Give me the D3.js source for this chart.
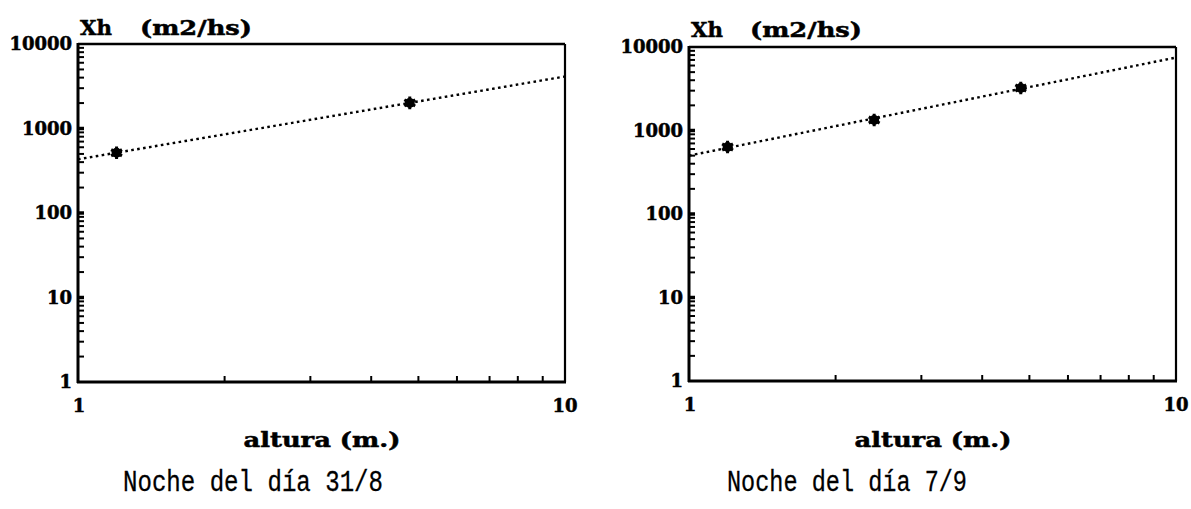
<!DOCTYPE html>
<html>
<head>
<meta charset="utf-8">
<script src="https://cdn.jsdelivr.net/npm/d3@7"></script>
<style>
  html, body { margin: 0; padding: 0; background: #fff; }
  svg { display: block; }
  .serif { font-family: "DejaVu Serif", "Liberation Serif", serif; font-weight: bold; fill: #000; stroke: #000; stroke-width: 0.5px; }
  .mono { font-family: "Liberation Mono", "DejaVu Sans Mono", monospace; fill: #000; stroke: #000; stroke-width: 0.3px; }
</style>
</head>
<body>
<svg id="chart" width="1191" height="509"></svg>
<script>
// Night of 31/8: height (m) and horizontal diffusivity Xh (m2/hs)
const alturas318 = [1.2, 4.8];
const xh318 = [517, 2010];

// Night of 7/9
const alturas79 = [1.2, 2.4, 4.8];
const xh79 = [634, 1336, 3230];

const xTickValues = [1, 10];
const yTickValues = [1, 10, 100, 1000, 10000];
const xDomain = [1, 10];
const yDomain = [1, 10000];

const panels = [
  { alturas: alturas318, xh: xh318, caption: "Noche del día 31/8",
    box: { left: 78, right: 565, top: 44, bottom: 382 },
    title: { xh: 80, unit: 140, y: 35 }, captionX: 123, captionW: 260 },
  { alturas: alturas79, xh: xh79, caption: "Noche del día 7/9",
    box: { left: 689, right: 1176, top: 47, bottom: 381 },
    title: { xh: 691, unit: 750, y: 37 }, captionX: 727, captionW: 240 }
];

const svg = d3.select("#chart");

// least-squares power-law fit (straight line on log-log axes)
function powerFit(xs, ys) {
  const lx = xs.map(Math.log10), ly = ys.map(Math.log10);
  const mx = d3.mean(lx), my = d3.mean(ly);
  const b = d3.sum(lx, (v, i) => (v - mx) * (ly[i] - my)) / d3.sum(lx, v => (v - mx) * (v - mx));
  const a = my - b * mx;
  return x => Math.pow(10, a + b * Math.log10(x));
}

panels.forEach(p => {
  const b = p.box;
  const x = d3.scaleLog().domain(xDomain).range([b.left, b.right]);
  const y = d3.scaleLog().domain(yDomain).range([b.bottom, b.top]);
  const g = svg.append("g");

  // minor ticks (2..9 in every decade), pointing into the plot
  const yMinor = [];
  for (let d = 1; d < 10000; d *= 10) for (let k = 2; k <= 9; k++) yMinor.push(d * k);
  g.selectAll(".ym").data(yMinor).join("line")
    .attr("x1", b.left).attr("x2", b.left + 6)
    .attr("y1", d => y(d)).attr("y2", d => y(d))
    .attr("stroke", "#000").attr("stroke-width", 2);
  g.selectAll(".yM").data(yTickValues.slice(1, -1)).join("line")
    .attr("x1", b.left).attr("x2", b.left + 6)
    .attr("y1", d => y(d)).attr("y2", d => y(d))
    .attr("stroke", "#000").attr("stroke-width", 3.5);

  const xMinor = d3.range(2, 10);
  g.selectAll(".xm").data(xMinor).join("line")
    .attr("x1", d => x(d)).attr("x2", d => x(d))
    .attr("y1", b.bottom).attr("y2", b.bottom - 6)
    .attr("stroke", "#000").attr("stroke-width", 2);

  // frame
  g.append("line").attr("x1", b.left).attr("x2", b.right).attr("y1", b.top).attr("y2", b.top)
    .attr("stroke", "#000").attr("stroke-width", 2.6);
  g.append("line").attr("x1", b.right).attr("x2", b.right).attr("y1", b.top).attr("y2", b.bottom)
    .attr("stroke", "#000").attr("stroke-width", 2.2);
  g.append("line").attr("x1", b.left).attr("x2", b.left).attr("y1", b.top - 1).attr("y2", b.bottom + 1)
    .attr("stroke", "#000").attr("stroke-width", 3);
  g.append("line").attr("x1", b.left - 1).attr("x2", b.right + 1).attr("y1", b.bottom).attr("y2", b.bottom)
    .attr("stroke", "#000").attr("stroke-width", 2.8);

  // y tick labels
  g.selectAll(".yl").data(yTickValues).join("text")
    .attr("class", "serif")
    .attr("x", b.left - 6).attr("y", d => y(d) + 6)
    .attr("text-anchor", "end")
    .attr("font-size", 18)
    .text(d => d3.format("d")(d));

  // x tick labels
  g.selectAll(".xl").data(xTickValues).join("text")
    .attr("class", "serif")
    .attr("x", d => x(d) + (d === 10 ? 0 : 1)).attr("y", b.bottom + 30)
    .attr("text-anchor", "middle")
    .attr("font-size", 18)
    .text(d => d);

  // axis titles
  g.append("text").attr("class", "serif")
    .attr("x", p.title.xh).attr("y", p.title.y)
    .attr("font-size", 21).attr("textLength", 32).attr("lengthAdjust", "spacingAndGlyphs")
    .text("Xh");
  g.append("text").attr("class", "serif")
    .attr("x", p.title.unit).attr("y", p.title.y)
    .attr("font-size", 21).attr("textLength", 112).attr("lengthAdjust", "spacingAndGlyphs")
    .text("(m2/hs)");
  g.append("text").attr("class", "serif")
    .attr("x", (b.left + b.right) / 2 - 78).attr("y", 447)
    .attr("font-size", 20).attr("textLength", 157).attr("lengthAdjust", "spacingAndGlyphs")
    .text("altura (m.)");

  // caption
  g.append("text").attr("class", "mono")
    .attr("x", p.captionX).attr("y", 491)
    .attr("font-size", 30).attr("textLength", p.captionW).attr("lengthAdjust", "spacingAndGlyphs")
    .text(p.caption);

  // fitted line, dotted
  const fit = powerFit(p.alturas, p.xh);
  const xs = d3.range(0, 101).map(i => Math.pow(10, i / 100));
  g.append("path")
    .attr("d", d3.line().x(d => x(d)).y(d => y(fit(d)))(xs))
    .attr("fill", "none").attr("stroke", "#000")
    .attr("stroke-width", 2.4).attr("stroke-dasharray", "2.6,3.4");

  // data markers
  const pts = p.alturas.map((a, i) => [a, p.xh[i]]);
  const mk = g.selectAll(".pt").data(pts).join("g")
    .attr("transform", d => `translate(${x(d[0])},${y(d[1])})`);
  mk.append("circle").attr("r", 5).attr("fill", "#000");
  mk.append("path").attr("d", d3.symbol(d3.symbolAsterisk, 110)())
    .attr("fill", "none").attr("stroke", "#000").attr("stroke-width", 3);
});
</script>
</body>
</html>
